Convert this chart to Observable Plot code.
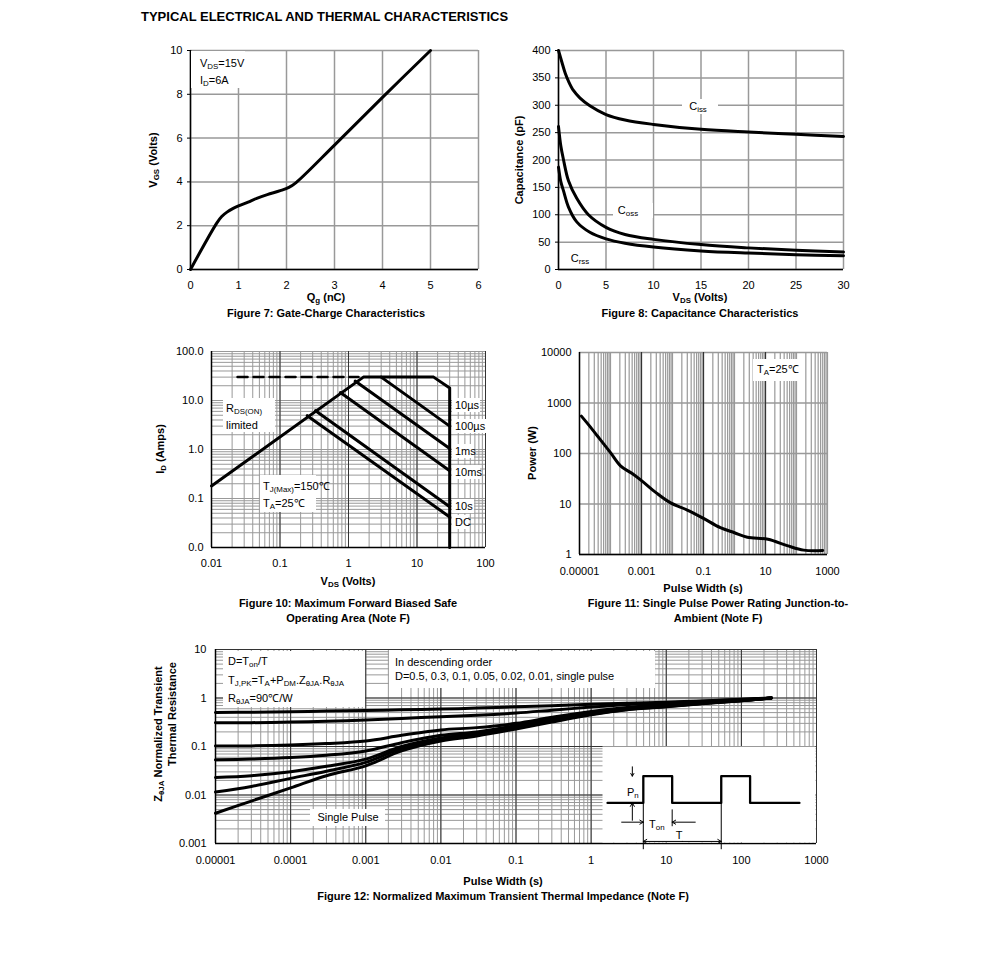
<!DOCTYPE html>
<html><head><meta charset="utf-8">
<script src="https://cdn.jsdelivr.net/npm/d3@7"></script>
<script src="https://cdn.jsdelivr.net/npm/@observablehq/plot@0.6"></script>
<style>
body{margin:0;background:#fff;font-family:"Liberation Sans",Arial,sans-serif;color:#000;}
#page{position:relative;width:991px;height:972px;overflow:hidden;}
.t{position:absolute;white-space:nowrap;line-height:1;}
.box{position:absolute;background:#fff;}
sub{font-size:0.72em;vertical-align:-0.3em;line-height:0;}
</style></head>
<body><div id="page"></div>
<script>
// ---------- DATA ----------
// Figure 7: gate charge
const qg  = [0, 0.55, 0.65, 0.76, 0.88, 1.0, 1.2, 1.38, 1.6, 1.87, 2.05, 2.2, 3.0, 4.0, 5.0];
const vgs = [0, 2.13, 2.42, 2.62, 2.78, 2.9, 3.08, 3.25, 3.42, 3.6, 3.75, 3.97, 5.68, 7.86, 10];
const qgTicks = [0,1,2,3,4,5,6];
const vgsTicks = [0,2,4,6,8,10];

// Figure 8: capacitance
const cissV = [0, 0.35, 0.7, 1.05, 1.57, 2.27, 3.3, 5, 7, 10, 15, 20, 25, 30];
const ciss  = [400, 379, 359, 344, 327, 313, 299, 283, 273, 265, 256, 251, 247, 243];
const cossV = [0, 0.25, 0.52, 1.05, 1.92, 3.15, 5, 7, 10, 15, 20, 25, 30];
const coss  = [261, 225, 201, 162, 130, 100, 77, 64, 55, 45.5, 39.5, 35, 32];
const crssV = [0, 0.25, 0.52, 1.05, 1.92, 3.3, 5, 7, 10, 15, 20, 25, 30];
const crss  = [187, 160, 144, 114, 87, 68, 56, 48, 41, 34, 30, 27, 25];
const vdsTicks = [0,5,10,15,20,25,30];
const capTicks = [0,50,100,150,200,250,300,350,400];

// Figure 10: SOA
const soaEnvelope = [[0.01,0.18],[1.65,30],[17.5,30],[30,18],[30,0.01]];
const soaDashed   = [[0.024,30],[1.4,30]];
const soa100us = [[3,30],[30,3]];
const soa1ms   = [[1.25,25],[30,1.05]];
const soa10ms  = [[0.76,14.5],[30,0.37]];
const soa10s   = [[0.33,6.2],[30,0.068]];
const soaDC    = [[0.25,4.9],[30,0.042]];
const soaXTicks = [0.01,0.1,1,10,100];
const soaXLabels = ["0.01","0.1","1","10","100"];
const soaYTicks = [0.01,0.1,1,10,100];
const soaYLabels = ["0.0","0.1","1.0","10.0","100.0"];

// Figure 11: single pulse power
const pwT = [1.15e-5, 2e-5, 3.8e-5, 1e-4, 2.1e-4, 5e-4, 1e-3, 3e-3, 8.7e-3, 3e-2, 0.1, 0.35, 1, 2.6, 12, 50, 170, 700];
const pwP = [550, 365, 222, 104, 57, 40, 29, 16.6, 10.5, 7.6, 5.2, 3.4, 2.7, 2.2, 2.0, 1.5, 1.22, 1.2];
const pwXTicks = [1e-5,1e-3,1e-1,10,1000];
const pwXLabels = ["0.00001","0.001","0.1","10","1000"];
const pwYTicks = [1,10,100,1000,10000];
const pwYLabels = ["1","10","100","1000","10000"];

// Figure 12: transient thermal impedance
const zx = [1e-5, 3e-5, 1e-4, 3e-4, 1e-3, 3e-3, 1e-2, 3e-2, 0.1, 0.3, 1, 3, 10, 30, 100, 250];
const zD05  = [0.505,0.51,0.52,0.54,0.555,0.57,0.59,0.62,0.66,0.69,0.74,0.78,0.82,0.87,0.94,1.0];
const zD03  = [0.31,0.31,0.32,0.33,0.35,0.38,0.41,0.44,0.49,0.56,0.65,0.73,0.79,0.86,0.93,1.0];
const zD01  = [0.103,0.103,0.107,0.115,0.13,0.17,0.22,0.245,0.30,0.40,0.53,0.64,0.73,0.82,0.91,1.0];
const zD005 = [0.053,0.055,0.059,0.066,0.081,0.12,0.17,0.20,0.27,0.36,0.49,0.61,0.70,0.79,0.89,1.0];
const zD002 = [0.023,0.025,0.030,0.039,0.055,0.10,0.15,0.185,0.25,0.34,0.47,0.59,0.68,0.78,0.89,1.0];
const zD001 = [0.0115,0.015,0.022,0.031,0.047,0.091,0.14,0.175,0.24,0.33,0.46,0.58,0.67,0.77,0.88,1.0];
const zSingle = [0.0042,0.0075,0.014,0.025,0.040,0.081,0.13,0.165,0.23,0.32,0.45,0.57,0.66,0.76,0.88,1.0];
const zXTicks = [1e-5,1e-4,1e-3,1e-2,0.1,1,10,100,1000];
const zXLabels = ["0.00001","0.0001","0.001","0.01","0.1","1","10","100","1000"];
const zYTicks = [0.001,0.01,0.1,1,10];
const zYLabels = ["0.001","0.01","0.1","1","10"];

// Inset pulse schematic (units of Ton and Pn)
const pulseT = [-1.24,0,0,1,1,2.7,2.7,3.7,3.7,5.41];
const pulseP = [0,0,1,1,0,0,1,1,0,0];

// ---------- HELPERS ----------
const page = document.getElementById("page");
const FONT = '"Liberation Sans", Arial, sans-serif';
const GRID = "#999";
const DARK = "#333";
const CURVE = "catmull-rom";
function logMinor(lo, hi) { // gridline positions 1..9 x decade
  const out = [];
  for (let e = lo; e < hi; e++) for (let k = 1; k <= 9; k++) out.push(k * Math.pow(10, e));
  out.push(Math.pow(10, hi));
  return out;
}
function lookup(ticks, labels) { return d => labels[ticks.findIndex(t => Math.abs(t - d) / t < 1e-6 || t === d)]; }
function mk(fx0, fy0, fx1, fy1, opts) {
  const ml = 60, mr = 20, mt = 10, mb = 30;
  const p = Plot.plot(Object.assign({
    width: fx1 - fx0 + ml + mr, height: fy1 - fy0 + mt + mb,
    marginLeft: ml, marginRight: mr, marginTop: mt, marginBottom: mb,
    style: {fontFamily: FONT, fontSize: "11px", background: "transparent", overflow: "visible", color: "#000"}
  }, opts));
  p.style.position = "absolute"; p.style.left = (fx0 - ml) + "px"; p.style.top = (fy0 - mt) + "px";
  page.appendChild(p);
  return p;
}
function txt(html, x, y, o = {}) {
  const d = document.createElement("div");
  d.className = "t"; d.innerHTML = html;
  let tf = o.anchor === "start" ? "translate(0,-50%)" : "translate(-50%,-50%)";
  if (o.rotate) tf = "translate(-50%,-50%) rotate(-90deg)";
  d.style.left = x + "px"; d.style.top = y + "px"; d.style.transform = tf;
  d.style.fontSize = (o.size || 11) + "px";
  d.style.fontWeight = o.bold ? "bold" : "normal";
  page.appendChild(d);
}
function box(x, y, w, h) {
  const d = document.createElement("div"); d.className = "box";
  d.style.left = x + "px"; d.style.top = y + "px"; d.style.width = w + "px"; d.style.height = h + "px";
  page.appendChild(d);
}
const pts = (xs, ys) => xs.map((x, i) => ({x, y: ys[i]}));
const pairs = arr => arr.map(([x, y]) => ({x, y}));

// ---------- TITLE ----------
txt("TYPICAL ELECTRICAL AND THERMAL CHARACTERISTICS", 141, 16, {anchor: "start", bold: true, size: 13});

// ---------- FIGURE 7 ----------
mk(190, 50, 478, 269, {
  x: {domain: [0, 6]}, y: {domain: [0, 10]},
  marks: [
    Plot.gridX(qgTicks, {stroke: GRID, strokeOpacity: 1, strokeWidth: 1.5}),
    Plot.gridY(vgsTicks, {stroke: GRID, strokeOpacity: 1, strokeWidth: 1.5}),
    Plot.ruleX([0], {stroke: "#000", strokeWidth: 1.5}),
    Plot.ruleY([0], {stroke: "#000", strokeWidth: 1.5}),
    Plot.axisX(qgTicks, {tickSize: 0, tickPadding: 12, label: null}),
    Plot.axisY(vgsTicks, {tickSize: 3, tickPadding: 5, label: null}),
    Plot.line(pts(qg, vgs), {x: "x", y: "y", stroke: "#000", strokeWidth: 3, curve: CURVE})
  ]
});
box(191, 51, 54, 37);
txt("V<sub>DS</sub>=15V", 200, 63, {anchor: "start"});
txt("I<sub>D</sub>=6A", 200, 80, {anchor: "start"});
txt("Q<sub>g</sub> (nC)", 326, 297, {bold: true});
txt("V<sub>GS</sub> (Volts)", 153, 160, {bold: true, rotate: true});
txt("Figure 7: Gate-Charge Characteristics", 326, 313, {bold: true});

// ---------- FIGURE 8 ----------
mk(558, 50, 843, 269, {
  x: {domain: [0, 30]}, y: {domain: [0, 400]},
  marks: [
    Plot.gridX(vdsTicks, {stroke: GRID, strokeOpacity: 1, strokeWidth: 1.5}),
    Plot.gridY(capTicks, {stroke: GRID, strokeOpacity: 1, strokeWidth: 1.5}),
    Plot.ruleX([0], {stroke: "#000", strokeWidth: 1.5}),
    Plot.ruleY([0], {stroke: "#000", strokeWidth: 1.5}),
    Plot.axisX(vdsTicks, {tickSize: 0, tickPadding: 12, label: null}),
    Plot.axisY(capTicks, {tickSize: 3, tickPadding: 5, label: null}),
    Plot.line(pts(cissV, ciss), {x: "x", y: "y", stroke: "#000", strokeWidth: 3, curve: CURVE}),
    Plot.line(pts(cossV, coss), {x: "x", y: "y", stroke: "#000", strokeWidth: 3, curve: CURVE}),
    Plot.line(pts(crssV, crss), {x: "x", y: "y", stroke: "#000", strokeWidth: 3, curve: CURVE})
  ]
});
box(682, 99, 36, 15); txt("C<sub>iss</sub>", 698, 106);
box(613, 203, 40, 15); txt("C<sub>oss</sub>", 628, 210);
box(566, 251, 28, 15); txt("C<sub>rss</sub>", 580, 258);
txt("V<sub>DS</sub> (Volts)", 700, 297, {bold: true});
txt("Capacitance (pF)", 519, 160, {bold: true, rotate: true});
txt("Figure 8: Capacitance Characteristics", 700, 313, {bold: true});

// ---------- FIGURE 10 ----------
const soaGridX = logMinor(-2, 2), soaGridY = logMinor(-2, 2);
mk(211, 351, 485, 547, {
  x: {type: "log", domain: [0.01, 100]}, y: {type: "log", domain: [0.01, 100]},
  marks: [
    Plot.gridX(soaGridX, {stroke: GRID, strokeOpacity: 1, strokeWidth: 1}),
    Plot.gridY(soaGridY, {stroke: GRID, strokeOpacity: 1, strokeWidth: 1}),
    Plot.gridX(soaXTicks, {stroke: DARK, strokeOpacity: 1, strokeWidth: 1}),
    Plot.ruleX([0.01], {stroke: "#000", strokeWidth: 1.5}),
    Plot.ruleY([0.01], {stroke: "#000", strokeWidth: 1.5}),
    Plot.axisX(soaXTicks, {tickSize: 0, tickPadding: 12, label: null, tickFormat: lookup(soaXTicks, soaXLabels)}),
    Plot.axisY(soaYTicks, {tickSize: 0, tickPadding: 8, label: null, tickFormat: lookup(soaYTicks, soaYLabels)}),
    Plot.line(pairs(soaDashed), {x: "x", y: "y", stroke: "#000", strokeWidth: 2.5, strokeDasharray: "10,6"}),
    Plot.line(pairs(soaEnvelope), {x: "x", y: "y", stroke: "#000", strokeWidth: 3}),
    ...[soa100us, soa1ms, soa10ms, soa10s, soaDC].map(s => Plot.line(pairs(s), {x: "x", y: "y", stroke: "#000", strokeWidth: 3}))
  ]
});
box(223, 398, 52, 34);
txt("R<sub>DS(ON)</sub>", 226, 408, {anchor: "start"});
txt("limited", 226, 425, {anchor: "start"});
box(260, 475, 56, 37);
txt("T<sub>J(Max)</sub>=150℃", 263, 486, {anchor: "start"});
txt("T<sub>A</sub>=25℃", 263, 503, {anchor: "start"});
[["10µs",405],["100µs",426],["1ms",451],["10ms",472],["10s",506],["DC",522]].forEach(([s, y]) => {
  box(452, y - 7, s.length * 6 + 4, 14); txt(s, 455, y, {anchor: "start"});
});
txt("V<sub>DS</sub> (Volts)", 348, 581, {bold: true});
txt("I<sub>D</sub> (Amps)", 160, 449, {bold: true, rotate: true});
txt("Figure 10: Maximum Forward Biased Safe", 348, 603, {bold: true});
txt("Operating Area (Note F)", 348, 618, {bold: true});

// ---------- FIGURE 11 ----------
const pwGridX = logMinor(-5, 3);
mk(579, 352, 827, 554, {
  x: {type: "log", domain: [1e-5, 1000]}, y: {type: "log", domain: [1, 10000]},
  marks: [
    Plot.gridX(pwGridX, {stroke: GRID, strokeOpacity: 1, strokeWidth: 1.2}),
    Plot.gridY(pwYTicks, {stroke: GRID, strokeOpacity: 1, strokeWidth: 1.5}),
    Plot.gridX([1e-3, 0.1, 10], {stroke: DARK, strokeOpacity: 1, strokeWidth: 1.2}),
    Plot.ruleX([1e-5], {stroke: "#000", strokeWidth: 1.5}),
    Plot.ruleY([1], {stroke: "#000", strokeWidth: 1.5}),
    Plot.axisX(pwXTicks, {tickSize: 0, tickPadding: 13, label: null, tickFormat: lookup(pwXTicks, pwXLabels)}),
    Plot.axisY(pwYTicks, {tickSize: 0, tickPadding: 8, label: null, tickFormat: lookup(pwYTicks, pwYLabels)}),
    Plot.line(pts(pwT, pwP), {x: "x", y: "y", stroke: "#000", strokeWidth: 3, curve: CURVE})
  ]
});
box(753, 359, 46, 22);
txt("T<sub>A</sub>=25℃", 757, 369, {anchor: "start"});
txt("Pulse Width (s)", 703, 588, {bold: true});
txt("Power (W)", 532, 453, {bold: true, rotate: true});
txt("Figure 11: Single Pulse Power Rating Junction-to-", 718, 603, {bold: true});
txt("Ambient (Note F)", 718, 618, {bold: true});

// ---------- FIGURE 12 ----------
const zGridX = logMinor(-5, 3), zGridY = logMinor(-3, 1);
const zSeries = [zD05, zD03, zD01, zD005, zD002, zD001, zSingle];
mk(215, 649, 816, 843, {
  x: {type: "log", domain: [1e-5, 1000]}, y: {type: "log", domain: [0.001, 10]},
  marks: [
    Plot.gridX(zGridX, {stroke: GRID, strokeOpacity: 1, strokeWidth: 1}),
    Plot.gridY(zGridY, {stroke: GRID, strokeOpacity: 1, strokeWidth: 1}),
    Plot.gridX(zXTicks, {stroke: DARK, strokeOpacity: 1, strokeWidth: 1}),
    Plot.gridY(zYTicks, {stroke: DARK, strokeOpacity: 1, strokeWidth: 1}),
    Plot.ruleX([1e-5], {stroke: "#000", strokeWidth: 1.5}),
    Plot.ruleY([0.001], {stroke: "#000", strokeWidth: 1.5}),
    Plot.axisX(zXTicks, {tickSize: 0, tickPadding: 13, label: null, tickFormat: lookup(zXTicks, zXLabels)}),
    Plot.axisY(zYTicks, {tickSize: 0, tickPadding: 9, label: null, tickFormat: lookup(zYTicks, zYLabels)}),
    ...zSeries.map(s => Plot.line(pts(zx, s), {x: "x", y: "y", stroke: "#000", strokeWidth: 3, curve: CURVE}))
  ]
});
box(223, 651, 142, 56);
txt("D=T<sub>on</sub>/T", 228, 661, {anchor: "start"});
txt("T<sub>J,PK</sub>=T<sub>A</sub>+P<sub>DM</sub>.Z<sub>θJA</sub>.R<sub>θJA</sub>", 228, 680, {anchor: "start"});
txt("R<sub>θJA</sub>=90℃/W", 228, 698, {anchor: "start"});
box(389, 651, 266, 37);
txt("In descending order", 395, 662, {anchor: "start"});
txt("D=0.5, 0.3, 0.1, 0.05, 0.02, 0.01, single pulse", 395, 676, {anchor: "start"});
box(310, 809, 75, 17);
txt("Single Pulse", 348, 817);

// inset pulse diagram
const inset = Plot.plot({
  width: 213, height: 96, margin: 0,
  x: {domain: [-1.414, 5.966], axis: null}, y: {domain: [-1.48, 2.11], axis: null},
  style: {background: "transparent", overflow: "visible"},
  marks: [
    Plot.frame({fill: "#fff", stroke: "none"}),
    Plot.line(pts(pulseT, pulseP), {x: "x", y: "y", stroke: "#000", strokeWidth: 2.3, clip: false}),
    Plot.ruleX([0, 2.7], {y1: 0, y2: -1.75, stroke: "#000", strokeWidth: 1}),
    Plot.ruleX([1], {y1: -0.26, y2: -0.89, stroke: "#000", strokeWidth: 1}),
    Plot.arrow([{x1: -0.38, y1: 1.35, x2: -0.38, y2: 1.0}, {x1: -0.38, y1: -0.65, x2: -0.38, y2: 0},
                {x1: -0.75, y1: -0.72, x2: 0, y2: -0.72}, {x1: 1.8, y1: -0.72, x2: 1.0, y2: -0.72},
                {x1: 1.35, y1: -1.44, x2: 0, y2: -1.44}, {x1: 1.35, y1: -1.44, x2: 2.7, y2: -1.44}],
      {x1: "x1", y1: "y1", x2: "x2", y2: "y2", stroke: "#000", strokeWidth: 1, headLength: 6})
  ]
});
inset.style.position = "absolute"; inset.style.left = "602px"; inset.style.top = "746px";
page.appendChild(inset);
txt("P<sub>n</sub>", 627, 792, {anchor: "start"});
txt("T<sub>on</sub>", 649, 824, {anchor: "start"});
txt("T", 679, 835);

txt("Pulse Width (s)", 503, 881, {bold: true});
txt("Z<sub>θJA</sub> Normalized Transient", 158, 734, {bold: true, rotate: true});
txt("Thermal Resistance", 172, 714, {bold: true, rotate: true});
txt("Figure 12: Normalized Maximum Transient Thermal Impedance (Note F)", 503, 896, {bold: true});
</script></body></html>
